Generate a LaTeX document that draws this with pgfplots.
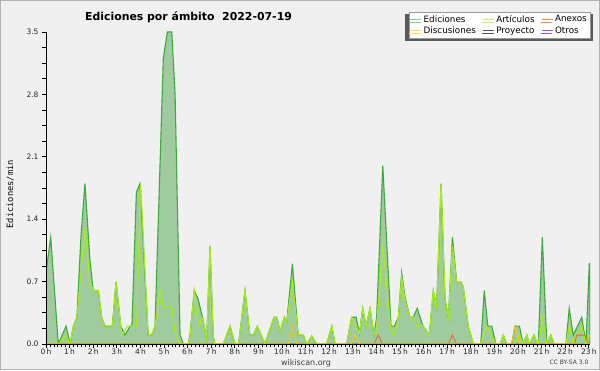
\documentclass[border=0pt]{standalone}
\usepackage{fontspec}
\setmainfont{DejaVu Sans}
\newfontfamily\monofont{DejaVu Sans Mono}
\usepackage{pgfplots}
\pgfplotsset{compat=1.18}
\usetikzlibrary{shadows}

\definecolor{bg}{HTML}{F0F0F0}
\definecolor{plotbg}{HTML}{EEEFF1}
\definecolor{edline}{HTML}{3DAA3D}
\definecolor{edfill}{HTML}{9FCB9F}
\definecolor{edleg}{HTML}{88CC88}
\definecolor{art}{HTML}{A6EE10}
\definecolor{artleg}{HTML}{CCEE55}
\definecolor{disc}{HTML}{F5C518}
\definecolor{discleg}{HTML}{FFDD55}
\definecolor{anex}{HTML}{EE6622}
\definecolor{anexleg}{HTML}{EE8855}
\definecolor{proy}{HTML}{555555}
\definecolor{otros}{HTML}{9955EE}
\definecolor{shadowc}{HTML}{5A5A5A}

\begin{document}
\begin{tikzpicture}[x=1pt,y=1pt]
\fill[bg] (0,0) rectangle (600,370);
\draw[gray!60, line width=1pt] (0.5,0.5) rectangle (599.5,369.5);
\begin{axis}[
  set layers, axis on top,
  at={(46pt,26pt)}, anchor=south west,
  width=544pt, height=312pt, scale only axis,
  xmin=0, xmax=23.05, ymin=0, ymax=3.5,
  axis x line*=bottom, axis y line*=left,
  axis line style={black, line width=0.9pt},
  axis background/.style={fill=plotbg},
  xtick={0,1,...,23},
  xticklabel={\pgfmathprintnumber{\tick}\,h},
  xticklabel style={inner sep=1pt},
  minor x tick num=5,
  ytick={0,0.7,1.4,2.1,2.8,3.5},
  minor y tick num=3,
  yticklabel style={/pgf/number format/.cd, fixed, fixed zerofill, precision=1},
  tick align=outside,
  major tick length=4pt, minor tick length=3.5pt,
  tick style={black, line width=0.7pt},
  ymajorgrids,
  major grid style={gray!40, line width=0.8pt, /pgfplots/on layer=axis background},
  ticklabel style={font=\fontsize{7.5}{8}\selectfont, text=black!85},
  /pgf/number format/assume math mode=true,
  ylabel={\monofont Ediciones/min},
  ylabel style={at={(axis description cs:-0.066,0.48)}, anchor=center, rotate=0, font=\fontsize{8.7}{10}\selectfont},
  legend columns=3,
  legend cell align=left,
  legend image code/.code={\draw[#1, line width=0.9pt] (0pt,0pt) -- (11pt,0pt);},
  legend style={at={(axis description cs:1,1.064)}, anchor=north east,
    font=\fontsize{8.8}{9.5}\selectfont, draw=gray!80, fill=white,
    inner sep=1pt, row sep=-1pt,
    /tikz/every even column/.append style={column sep=4.5pt},
    drop shadow={shadow scale=1.04, shadow xshift=-0.5pt, shadow yshift=-2.5pt, fill=shadowc, opacity=1}},
]
% Ediciones (total)
\addplot[forget plot, draw=edline, line width=1.1pt, fill=edfill] coordinates {
(0,0.8)(0.20,1.2)(0.52,0)(0.85,0.2)(1.02,0)(1.16,0.2)(1.31,0.3)(1.48,1.2)(1.65,1.8)(1.86,0.95)(2.00,0.6)(2.22,0.6)(2.36,0.3)(2.50,0.2)(2.81,0.2)(2.97,0.7)(3.17,0.2)(3.35,0.1)(3.56,0.2)(3.64,0.2)(3.83,1.7)(3.98,1.8)(4.33,0.1)(4.48,0.1)(4.62,0.2)(4.97,3.2)(5.14,3.5)(5.33,3.5)(5.47,2.8)(5.68,0.1)(5.82,0)(6.03,0)(6.10,0.1)(6.28,0.6)(6.45,0.5)(6.64,0.29)(6.81,0.05)(6.95,1.1)(7.09,0.08)(7.16,0)(7.51,0)(7.80,0.2)(8.01,0)(8.16,0)(8.43,0.6)(8.64,0.1)(8.78,0.1)(8.95,0.2)(9.28,0)(9.66,0.3)(9.78,0.3)(9.92,0.14)(10.10,0.3)(10.20,0.25)(10.44,0.9)(10.69,0.1)(10.90,0.1)(11.05,0)(11.26,0.09)(11.47,0)(11.89,0)(12.11,0.2)(12.25,0)(12.74,0)(12.95,0.3)(13.14,0.3)(13.28,0.12)(13.42,0.4)(13.56,0.2)(13.73,0.4)(13.90,0.1)(14.01,0.3)(14.27,2.0)(14.62,0.2)(14.76,0.2)(14.93,0.3)(15.07,0.8)(15.21,0.53)(15.42,0.3)(15.56,0.3)(15.73,0.4)(15.96,0.21)(16.24,0.1)(16.41,0.6)(16.55,0.42)(16.74,1.8)(16.91,0.5)(17.05,0.3)(17.22,1.2)(17.40,0.7)(17.57,0.7)(17.68,0.64)(17.89,0.2)(18.11,0)(18.42,0)(18.57,0.6)(18.72,0.2)(18.89,0.2)(19.06,0)(19.24,0)(19.38,0.1)(19.52,0)(19.73,0)(19.87,0.2)(20.06,0.2)(20.22,0)(20.37,0.1)(20.48,0)(20.68,0.1)(20.82,0)(20.86,0)(21.03,1.2)(21.22,0)(21.39,0.1)(21.53,0)(22.03,0)(22.17,0.4)(22.34,0.1)(22.70,0.3)(22.88,0)(23.02,0.9)(23.05,0.9)
} \closedcycle;
% Articulos
\addplot[forget plot, draw=art, line width=1.1pt] coordinates {
(0,0)(0.52,0)(0.85,0.1)(1.02,0)(1.16,0.2)(1.31,0.3)(1.65,1.3)(1.86,0.7)(2.00,0.6)(2.22,0.6)(2.36,0.3)(2.50,0.2)(2.81,0.2)(2.97,0.7)(3.17,0.2)(3.21,0.1)(3.35,0.15)(3.44,0.2)(3.64,0.2)(3.84,0.2)(4.01,1.8)(4.33,0.1)(4.48,0.1)(4.62,0.2)(4.83,0.6)(4.97,0.42)(5.33,0.42)(5.47,0.12)(5.68,0)(6.03,0)(6.10,0.08)(6.28,0.6)(6.45,0.2)(6.64,0.29)(6.81,0.05)(6.95,1.1)(7.09,0.08)(7.16,0)(7.51,0)(7.80,0.2)(8.01,0)(8.16,0)(8.43,0.6)(8.64,0.1)(8.78,0.1)(8.95,0.2)(9.28,0)(9.66,0.3)(9.78,0.3)(9.92,0.14)(10.10,0.3)(10.20,0.25)(10.44,0.7)(10.69,0.1)(10.90,0.1)(11.05,0)(11.26,0.09)(11.47,0)(11.89,0)(12.11,0.2)(12.25,0)(12.74,0)(12.95,0.3)(13.14,0.2)(13.28,0.12)(13.42,0.4)(13.56,0.2)(13.73,0.4)(13.90,0.1)(14.01,0.2)(14.27,1.1)(14.62,0.15)(14.76,0.1)(14.93,0.3)(15.07,0.75)(15.21,0.5)(15.42,0.3)(15.56,0.3)(15.73,0.2)(15.96,0.21)(16.24,0.1)(16.41,0.6)(16.55,0.42)(16.74,1.8)(16.91,0.5)(17.05,0.3)(17.22,1.1)(17.40,0.7)(17.57,0.7)(17.68,0.64)(17.89,0.2)(18.11,0)(18.42,0)(18.67,0.2)(19.06,0)(19.24,0)(19.38,0.1)(19.52,0)(19.87,0)(20.06,0.1)(20.22,0)(20.37,0.1)(20.48,0)(20.68,0.1)(20.82,0)(20.86,0)(21.03,0.3)(21.22,0)(21.39,0.1)(21.53,0)(22.03,0)(22.17,0.2)(22.34,0)(22.70,0.2)(22.88,0)(23.02,0.1)(23.05,0.1)
};
% Anexos
\addplot[forget plot, draw=anex, line width=0.9pt] coordinates {
(0,0)(13.90,0)(14.08,0.1)(14.25,0)(17.05,0)(17.22,0.1)(17.39,0)(22.39,0)(22.49,0.1)(22.84,0.1)(22.97,0)(23.05,0)
};
% Discusiones
\addplot[forget plot, draw=disc, line width=0.9pt] coordinates {
(0,0)(10.27,0)(10.44,0.2)(10.62,0)(12.92,0)(13.09,0.1)(13.28,0)(19.73,0)(19.87,0.2)(20.08,0)(23.05,0)
};
% Proyecto
\addplot[forget plot, draw=proy, line width=0.9pt] coordinates {(0,0)(23.05,0)};
% Otros
\addplot[forget plot, draw=otros, line width=0.9pt] coordinates {(0,0)(23.05,0)};
\addlegendimage{edleg}\addlegendentry{Ediciones}
\addlegendimage{artleg}\addlegendentry{Artículos}
\addlegendimage{anexleg}\addlegendentry{Anexos}
\addlegendimage{discleg}\addlegendentry{Discusiones}
\addlegendimage{proy}\addlegendentry{Proyecto}
\addlegendimage{otros}\addlegendentry{Otros}
\end{axis}
\node[font=\bfseries\fontsize{10.9}{12}\selectfont] at (188.5,353) {Ediciones por ámbito\ \ 2022-07-19};
\node[font=\fontsize{8}{9}\selectfont, text=black!75] at (306,7) {wikiscan.org};
\node[font=\fontsize{6}{7}\selectfont, text=black!75] at (569,7.5) {CC BY-SA 3.0};
\end{tikzpicture}
\end{document}
